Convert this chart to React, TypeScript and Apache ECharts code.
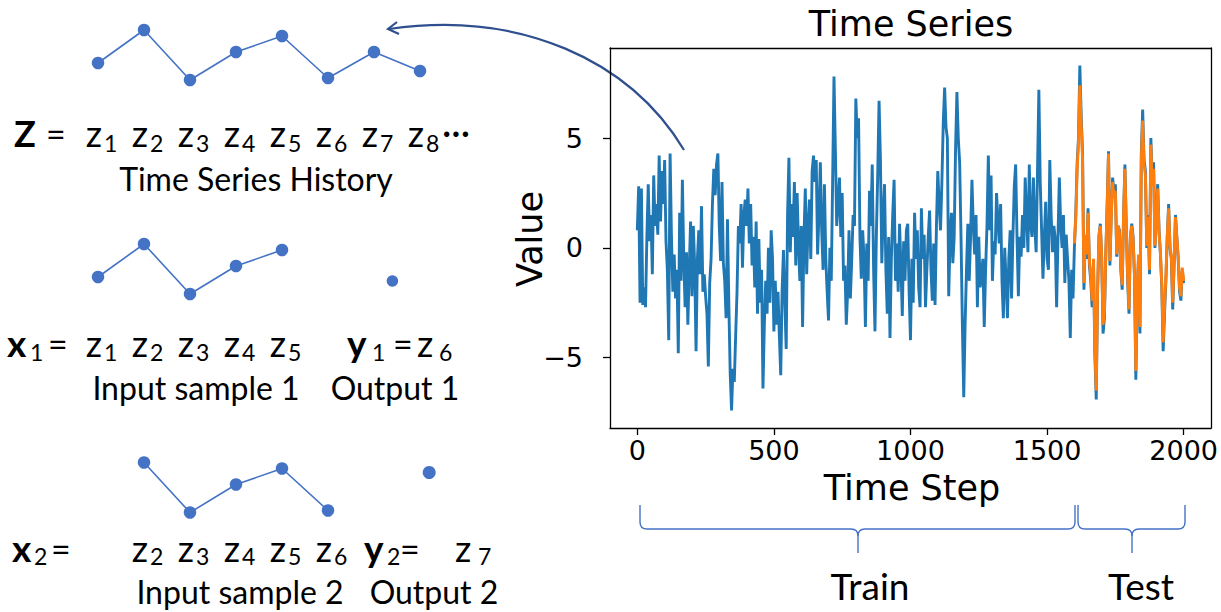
import { useEffect, useRef } from "react";
import * as echarts from "echarts";

// ---------------- data ----------------
const STEP = 5;
const TEST_START = 1600;

// observed series, one value every 5 time steps (t = 0 .. 2000)
const blueValues = [
  0.8, 2.8, -2.5, 2.7, -2.6, -1.8, -2.7, 0.5, 2.9, 0.3, 1.5, -1.2, 3.3, 1.0, 2.0, 0.6, 4.2, 1.2, 3.5, 2.0,
  4.0, 0.3, -1.0, -4.2, 4.3, 0.5, -2.0, -0.3, -2.3, -1.0, -4.8, 1.6, -1.5, 3.1, -0.5, -2.7, -0.2, -3.5, -1.0, 1.2,
  -2.2, 1.0, -0.8, -4.7, -0.5, 0.8, -1.2, 1.9, -2.0, -1.2, -2.2, -3.0, -5.4, -1.6, -0.5, 2.0, 3.6, 2.4, 3.8, 4.3,
  1.0, -0.6, 3.0, -0.7, -1.5, -3.2, 1.3, -2.5, -5.7, -7.4, -5.5, -6.1, -4.0, -2.0, 1.0, 0.2, 2.0, -0.9, 1.5, 2.2,
  1.0, 2.7, 0.2, 2.0, -0.8, 0.5, -1.8, 1.2, -3.0, 0.4, -2.5, -1.0, -6.4, -3.5, -1.5, -3.0, 0.0, -2.5, 0.8, -0.5,
  -3.8, -1.5, -3.5, -2.0, -4.0, -5.8, -2.0, -0.1, -2.5, -4.6, 1.5, 4.1, -0.2, 2.0, 0.5, 3.0, -0.8, 2.5, 0.2, -1.5,
  1.0, -3.6, 0.5, 2.7, -1.2, 1.0, 2.2, -0.5, 3.5, 4.2, 3.0, 4.0, -0.3, 1.5, 3.9, 0.8, -1.0, 2.9, -0.5, -2.0,
  -3.3, 0.0, -1.5, 3.0, 7.8, 4.5, 1.0, 2.0, 3.2, 0.5, 2.5, -1.5, -0.8, -3.5, -2.0, 0.8, -2.3, -0.5, 1.5, 1.0,
  6.8, 5.0, 5.9, 0.5, -1.4, 0.8, -0.5, -3.6, 0.2, -1.5, 2.6, 1.0, 3.8, -1.0, -3.8, 0.5, 3.3, 6.7, 4.0, -0.7,
  1.5, 2.9, -1.0, -3.0, 0.5, -4.1, -0.5, 1.5, 3.1, -1.5, 0.2, -2.0, 1.1, -0.8, -3.1, 0.3, -1.5, 0.8, 1.1, -2.0,
  -4.2, -0.5, -2.5, 1.6, -0.5, 0.8, -1.8, -2.7, 1.8, -0.5, 0.6, -2.7, -1.0, 0.5, 1.7, -1.0, -2.4, 0.2, -2.6, 1.0,
  3.5, 2.0, 0.8, 3.0, 5.7, 7.3, 5.5, 5.0, -2.2, 0.5, 1.6, -0.7, 0.5, 4.5, 7.1, 5.0, 3.9, 0.5, -3.5, -6.8,
  -3.5, -1.0, 1.1, -1.5, 0.5, 3.1, 1.0, -0.3, 1.5, -2.7, 0.5, -1.8, -1.2, -0.5, -3.6, -1.0, 1.0, 4.2, 0.8, 3.3,
  -1.5, 0.3, -0.3, 2.5, 1.3, 0.2, 2.0, -1.5, -3.2, 0.0, -1.5, -3.2, -0.5, 0.8, -2.3, 0.5, 2.8, 3.8, 0.5, -2.2,
  0.5, -0.4, 1.5, 0.0, 3.2, 1.5, -0.2, 3.8, 1.0, 0.5, 3.2, 1.0, -0.2, 3.5, 7.2, 3.0, 0.8, -1.4, 0.5, 2.1,
  -0.5, -1.0, 4.0, 1.5, -0.2, 1.0, 0.4, -2.7, 0.5, 3.2, 1.0, 0.0, 1.5, -1.6, 0.6, -0.5, -1.5, -4.1, -1.0, -2.3,
  0.0, 1.5, 3.8, 5.0, 8.3, 6.0, 4.3, -1.9, 0.5, -0.5, 1.8, -0.8, -1.5, -2.7, -0.7, -4.9, -6.9, -2.0, 0.5, 1.1,
  -0.5, -3.9, -3.2, -0.3, 2.0, 4.4, -0.8, 1.5, 3.2, 2.5, 2.9, -0.4, 1.0, 0.8, -1.0, -1.9, 1.5, 3.8, 1.0, -1.5,
  -3.0, 0.5, 1.1, 0.5, -1.3, -6.0, -2.0, -0.4, -3.9, 4.3, 6.3, 4.0, 3.5, 0.0, 1.5, -1.2, 5.0, 3.0, 3.9, 0.0,
  1.5, 2.9, 0.8, -0.3, -1.8, -4.7, -3.0, -1.5, 0.5, 2.0, 0.0, -0.5, -2.8, -0.8, 1.5, 0.5, -0.5, -2.0, -2.4, -1.0,
  -1.6,
];

// test-period series (t = 1600 .. 2000)
const orangeValues = [
  0.2, 1.3, 3.5, 4.8, 7.4, 5.6, 4.0, -1.6, 0.6, -0.3, 1.6, -0.6, -1.3, -2.4, -0.5, -4.5, -6.5, -1.8, 0.6, 1.0,
  -0.4, -3.5, -2.9, -0.2, 1.8, 4.3, -0.6, 1.4, 3.0, 2.3, 2.6, -0.3, 1.0, 0.7, -0.9, -1.7, 1.4, 3.6, 1.0, -1.3,
  -2.8, 0.5, 1.0, 0.4, -1.2, -5.6, -1.8, -0.3, -3.6, 4.0, 5.8, 3.8, 3.3, 0.1, 1.4, -1.0, 4.7, 2.8, 3.6, 0.1,
  1.4, 2.7, 0.7, -0.2, -1.6, -4.3, -2.7, -1.3, 0.5, 1.8, 0.1, -0.4, -2.5, -0.7, 1.4, 0.5, -0.4, -1.8, -2.2, -0.9,
  -1.5,
];

const xTicks = [0, 500, 1000, 1500, 2000];
const yTicks = [-5, 0, 5];

// schematic history z1..z8
const historyValues = [1.85, 3.5, 1.0, 2.4, 3.2, 1.1, 2.4, 1.45];
const sample1Slots = [1, 2, 3, 4, 5];
const sample2Slots = [2, 3, 4, 5, 6];
const output1 = [7.4, 1.65];
const output2 = [8.2, 3.0];

// ---------------- styling helpers ----------------
const LATO = "Lato, 'Open Sans', sans-serif";
const DJ = "'DejaVu Sans', sans-serif";
const DIAG_BLUE = "#4472C4";
const ARROW_BLUE = "#2F4F8F";

const slotX = (s: number) => 98 + (s - 1) * 46;

function txt(
  text: string,
  x: number,
  baseline: number,
  fs: number,
  o: { font?: string; bold?: boolean; align?: string; rotation?: number; center?: number } = {}
) {
  const font = o.font || LATO;
  const k = font === DJ ? 0.346 : 0.387;
  return {
    type: "text",
    x,
    y: o.center !== undefined ? o.center : baseline - k * fs,
    rotation: o.rotation || 0,
    silent: true,
    style: {
      text,
      fontSize: fs,
      lineHeight: fs,
      fontFamily: font,
      fontWeight: o.bold ? "bold" : "normal",
      fill: "#000",
      align: o.align || "left",
      verticalAlign: "middle",
    },
  };
}

function zLabel(slot: number, idx: number, baseline: number, subDrop: number) {
  const x = slotX(slot) + 4;
  return [txt("z", x, baseline, 36, { align: "right" }), txt(String(idx), x + 2, baseline + subDrop, 23)];
}

function brace(xa: number, xm: number, xb: number, yTop: number, yMid: number, yTip: number, r: number) {
  const st = { stroke: DIAG_BLUE, lineWidth: 1.4, fill: null };
  const q = (x1: number, y1: number, cx: number, cy: number, x2: number, y2: number) => ({
    type: "bezierCurve",
    silent: true,
    shape: { x1, y1, cpx1: cx, cpy1: cy, x2, y2 },
    style: st,
  });
  const l = (x1: number, y1: number, x2: number, y2: number) => ({
    type: "line",
    silent: true,
    shape: { x1, y1, x2, y2 },
    style: st,
  });
  return [
    l(xa, yTop, xa, yMid - r),
    q(xa, yMid - r, xa, yMid, xa + r, yMid),
    l(xa + r, yMid, xm - r, yMid),
    q(xm - r, yMid, xm, yMid, xm, yMid + r),
    l(xm, yMid + r, xm, yTip),
    q(xm + r, yMid, xm, yMid, xm, yMid + r),
    l(xm + r, yMid, xb - r, yMid),
    q(xb - r, yMid, xb, yMid, xb, yMid - r),
    l(xb, yMid - r, xb, yTop),
  ];
}

function buildGraphics() {
  const els: any[] = [];
  // chart texts
  els.push(txt("Time Series", 911, 36, 35, { font: DJ, align: "center" }));
  els.push(txt("Time Step", 912, 500, 35, { font: DJ, align: "center" }));
  els.push(txt("Value", 530, 0, 35, { font: DJ, align: "center", rotation: Math.PI / 2, center: 239 }));
  // braces + labels
  brace(640, 858, 1075, 505, 529, 553, 7).forEach((e) => els.push(e));
  brace(1078, 1132, 1185, 505, 529, 553, 7).forEach((e) => els.push(e));
  els.push(txt("Train", 870, 600, 37, { align: "center" }));
  els.push(txt("Test", 1141, 600, 37, { align: "center" }));

  // arrow
  els.push({
    type: "bezierCurve",
    silent: true,
    shape: { x1: 684, y1: 150, cpx1: 630, cpy1: 60, cpx2: 520, cpy2: 10, x2: 389, y2: 29 },
    style: { stroke: ARROW_BLUE, lineWidth: 2.2, fill: null },
  });
  els.push({
    type: "polyline",
    silent: true,
    shape: { points: [[397, 22], [388, 29], [399, 34]] },
    style: { stroke: ARROW_BLUE, lineWidth: 2.2, fill: null },
  });

  // row 1
  const B1 = 147;
  els.push(txt("Z", 14, B1, 36, { bold: true }));
  els.push(txt("=", 46, B1, 34));
  historyValues.forEach((_, i) => zLabel(i + 1, i + 1, B1, 5).forEach((e) => els.push(e)));
  els.push(txt("···", 442, B1 - 2, 36));
  els.push(txt("Time Series History", 256, 191, 32, { align: "center" }));

  // row 2
  const B2 = 357;
  els.push(txt("x", 7, B2, 37, { bold: true }));
  els.push(txt("1", 30, B2 + 4, 23));
  els.push(txt("=", 48, B2, 34));
  sample1Slots.forEach((s) => zLabel(s, s, B2, 4).forEach((e) => els.push(e)));
  els.push(txt("y", 347, B2, 37, { bold: true }));
  els.push(txt("1", 372, B2 + 4, 23));
  els.push(txt("=", 393, B2, 34));
  els.push(txt("z", 417, B2, 36));
  els.push(txt("6", 439, B2 + 4, 23));
  els.push(txt("Input sample 1", 196, 400, 32, { align: "center" }));
  els.push(txt("Output 1", 395, 400, 32, { align: "center" }));

  // row 3
  const B3 = 562;
  els.push(txt("x", 12, B3, 37, { bold: true }));
  els.push(txt("2", 34, B3 + 3, 23));
  els.push(txt("=", 51, B3, 34));
  sample2Slots.forEach((s) => zLabel(s, s, B3, 3).forEach((e) => els.push(e)));
  els.push(txt("y", 364, B3, 37, { bold: true }));
  els.push(txt("2", 387, B3 + 3, 23));
  els.push(txt("=", 400, B3, 34));
  els.push(txt("z", 455, B3, 36));
  els.push(txt("7", 478, B3 + 3, 23));
  els.push(txt("Input sample 2", 240, 604, 32, { align: "center" }));
  els.push(txt("Output 2", 434, 604, 32, { align: "center" }));
  return els;
}

function buildOption(): any {
  const frameLine = { show: true, onZero: false, lineStyle: { color: "#000", width: 1.3 } };
  const tickLabel = { fontSize: 27, fontFamily: DJ, color: "#000" };
  const hiddenX = (g: number) => ({ type: "value", gridIndex: g, min: 1, max: 8, show: false });
  const hiddenY = (g: number) => ({ type: "value", gridIndex: g, min: 0, max: 4, show: false });
  const diagLine = {
    type: "line",
    symbol: "circle",
    symbolSize: 12.5,
    showSymbol: true,
    clip: false,
    lineStyle: { color: DIAG_BLUE, width: 1.6 },
    itemStyle: { color: DIAG_BLUE },
  };
  return {
    animation: false,
    backgroundColor: "#fff",
    grid: [
      { left: 610, top: 48, width: 602, height: 380 },
      { left: 98, top: 20, width: 322, height: 80 },
      { left: 98, top: 234, width: 322, height: 80 },
      { left: 98, top: 452.5, width: 322, height: 80 },
    ],
    xAxis: [
      {
        type: "value",
        gridIndex: 0,
        min: -100,
        max: 2100,
        position: "bottom",
        axisLine: frameLine,
        axisTick: { show: true, length: 7, customValues: xTicks, lineStyle: { color: "#000", width: 1.3 } },
        axisLabel: { ...tickLabel, margin: 9, customValues: xTicks, formatter: (v: number) => String(v) },
        splitLine: { show: false },
      },
      {
        type: "value",
        gridIndex: 0,
        min: -100,
        max: 2100,
        position: "top",
        axisLine: frameLine,
        axisTick: { show: false },
        axisLabel: { show: false },
        splitLine: { show: false },
      },
      hiddenX(1),
      hiddenX(2),
      hiddenX(3),
    ],
    yAxis: [
      {
        type: "value",
        gridIndex: 0,
        min: -8.2,
        max: 9.1,
        position: "left",
        axisLine: frameLine,
        axisTick: { show: true, length: 7, customValues: yTicks, lineStyle: { color: "#000", width: 1.3 } },
        axisLabel: {
          ...tickLabel,
          margin: 27,
          customValues: yTicks,
          formatter: (v: number) => (v < 0 ? "\u2212" + Math.abs(v) : String(v)),
        },
        splitLine: { show: false },
      },
      {
        type: "value",
        gridIndex: 0,
        min: -8.2,
        max: 9.1,
        position: "right",
        axisLine: frameLine,
        axisTick: { show: false },
        axisLabel: { show: false },
        splitLine: { show: false },
      },
      hiddenY(1),
      hiddenY(2),
      hiddenY(3),
    ],
    series: [
      {
        type: "line",
        xAxisIndex: 0,
        yAxisIndex: 0,
        data: blueValues.map((v, i) => [i * STEP, v]),
        showSymbol: false,
        symbol: "none",
        lineStyle: { color: "#1f77b4", width: 2.9 },
        itemStyle: { color: "#1f77b4" },
        z: 2,
      },
      {
        type: "line",
        xAxisIndex: 0,
        yAxisIndex: 0,
        data: orangeValues.map((v, i) => [TEST_START + i * STEP, v]),
        showSymbol: false,
        symbol: "none",
        lineStyle: { color: "#ff7f0e", width: 2.9 },
        itemStyle: { color: "#ff7f0e" },
        z: 3,
      },
      { ...diagLine, xAxisIndex: 2, yAxisIndex: 2, data: historyValues.map((v, i) => [i + 1, v]) },
      { ...diagLine, xAxisIndex: 3, yAxisIndex: 3, data: sample1Slots.map((s) => [s, historyValues[s - 1]]) },
      { ...diagLine, xAxisIndex: 4, yAxisIndex: 4, data: sample2Slots.map((s) => [s, historyValues[s - 1]]) },
      { type: "scatter", xAxisIndex: 3, yAxisIndex: 3, data: [output1], symbolSize: 11.5, clip: false, itemStyle: { color: DIAG_BLUE, opacity: 1 } },
      { type: "scatter", xAxisIndex: 4, yAxisIndex: 4, data: [output2], symbolSize: 13, clip: false, itemStyle: { color: DIAG_BLUE, opacity: 1 } },
    ],
    graphic: { elements: buildGraphics() },
  };
}

export default function App() {
  const ref = useRef<HTMLDivElement>(null);
  useEffect(() => {
    if (!ref.current) return;
    const chart = echarts.init(ref.current, undefined, { renderer: "svg" });
    chart.setOption(buildOption());
    return () => chart.dispose();
  }, []);
  return (
    <div
      ref={ref}
      style={{ position: "fixed", left: 0, top: 0, width: 1221, height: 612, background: "#fff" }}
    />
  );
}
